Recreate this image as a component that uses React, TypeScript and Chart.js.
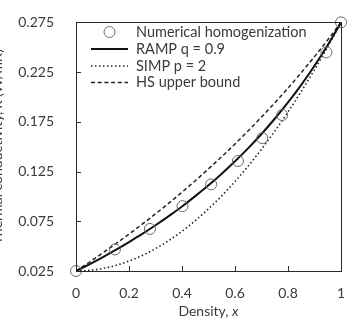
import React, { useEffect, useRef } from 'react';
import { Chart, registerables } from 'chart.js';

Chart.register(...registerables);

// ---- data ----
const densityGrid = [0, 0.05, 0.1, 0.15, 0.2, 0.25, 0.3, 0.35, 0.4, 0.45, 0.5, 0.55, 0.6, 0.65, 0.7, 0.75, 0.8, 0.85, 0.9, 0.95, 1];
const rampValues = [0.025, 0.0317, 0.0388, 0.0462, 0.0541, 0.0623, 0.071, 0.0802, 0.0899, 0.1003, 0.1112, 0.1229, 0.1353, 0.1486, 0.1628, 0.1781, 0.1945, 0.2122, 0.2314, 0.2523, 0.275];
const simpValues = [0.025, 0.0256, 0.0275, 0.0306, 0.035, 0.0406, 0.0475, 0.0556, 0.065, 0.0756, 0.0875, 0.1006, 0.115, 0.1306, 0.1475, 0.1656, 0.185, 0.2056, 0.2275, 0.2506, 0.275];
const hsValues = [0.025, 0.0338, 0.043, 0.0524, 0.0621, 0.0721, 0.0825, 0.0932, 0.1043, 0.1158, 0.1277, 0.14, 0.1528, 0.166, 0.1798, 0.1941, 0.209, 0.2245, 0.2406, 0.2574, 0.275];
const numericalX = [0, 0.147, 0.279, 0.402, 0.51, 0.611, 0.703, 0.778, 0.945, 1];
const numericalY = [0.025, 0.0467, 0.0673, 0.0902, 0.1121, 0.1356, 0.1586, 0.1819, 0.2449, 0.275];
const xTicks = [0, 0.2, 0.4, 0.6, 0.8, 1];
const yTicks = [0.025, 0.075, 0.125, 0.175, 0.225, 0.275];
const seriesLabels = ['Numerical homogenization', 'RAMP q = 0.9', 'SIMP p = 2', 'HS upper bound'];
const xTitleMain = 'Density, ';
const xTitleItalic = 'x';
const yTitle = 'Thermal conductivity, λ (W/mK)';

const FONT_FAMILY = 'Lato, "Open Sans", sans-serif';
const TEXT_COLOR = '#3a3a3a';
const AXIS_COLOR = '#2a2a2a';
const SHIFT = 11;

const toPoints = (xs: number[], ys: number[]) => xs.map((x, i) => ({ x, y: ys[i] }));

const framePlugin = {
  id: 'frameAndLegend',
  afterDraw(chart: any) {
    const { ctx, chartArea, scales } = chart;
    const { left, right, top, bottom } = chartArea;
    ctx.save();
    // box
    ctx.strokeStyle = AXIS_COLOR;
    ctx.lineWidth = 1;
    ctx.strokeRect(Math.round(left) + 0.5, Math.round(top) + 0.5, Math.round(right - left), Math.round(bottom - top));
    // inside tick marks
    ctx.beginPath();
    scales.x.ticks.forEach((t: any) => {
      const px = Math.round(scales.x.getPixelForValue(t.value)) + 0.5;
      ctx.moveTo(px, bottom);
      ctx.lineTo(px, bottom - 5);
    });
    scales.y.ticks.forEach((t: any) => {
      const py = Math.round(scales.y.getPixelForValue(t.value)) + 0.5;
      ctx.moveTo(left, py);
      ctx.lineTo(left + 5, py);
    });
    ctx.stroke();

    // x title with italic variable
    ctx.fillStyle = TEXT_COLOR;
    ctx.textBaseline = 'middle';
    ctx.textAlign = 'left';
    const fMain = `14px ${FONT_FAMILY}`;
    const fIt = `italic 14px ${FONT_FAMILY}`;
    ctx.font = fMain;
    const w1 = ctx.measureText(xTitleMain).width;
    ctx.font = fIt;
    const w2 = ctx.measureText(xTitleItalic).width;
    const cx = (left + right) / 2;
    const ty = 311.5;
    ctx.font = fMain;
    ctx.fillText(xTitleMain, cx - (w1 + w2) / 2, ty);
    ctx.font = fIt;
    ctx.fillText(xTitleItalic, cx - (w1 + w2) / 2 + w1, ty);

    // legend inside plot
    const ds = chart.data.datasets;
    const rowY = [32, 49, 66, 82.5];
    const sx0 = 91 + SHIFT;
    const sx1 = 128 + SHIFT;
    const textX = 136 + SHIFT;
    ctx.font = `14.5px ${FONT_FAMILY}`;
    ds.forEach((d: any, i: number) => {
      const y = rowY[i];
      if (d.showLine === false) {
        ctx.beginPath();
        ctx.strokeStyle = d.borderColor;
        ctx.lineWidth = d.borderWidth;
        ctx.arc((sx0 + sx1) / 2, y, d.pointRadius, 0, Math.PI * 2);
        ctx.stroke();
      } else {
        ctx.beginPath();
        ctx.strokeStyle = d.borderColor;
        ctx.lineWidth = d.borderWidth;
        ctx.setLineDash(d.borderDash || []);
        ctx.moveTo(sx0, y);
        ctx.lineTo(sx1, y);
        ctx.stroke();
        ctx.setLineDash([]);
      }
      ctx.fillStyle = TEXT_COLOR;
      ctx.fillText(d.label, textX, y);
    });
    ctx.restore();
  },
};

export default function App() {
  const canvasRef = useRef<HTMLCanvasElement | null>(null);

  useEffect(() => {
    const canvas = canvasRef.current;
    if (!canvas) return;
    const chart = new Chart(canvas, {
      type: 'line',
      data: {
        datasets: [
          {
            type: 'scatter',
            label: seriesLabels[0],
            data: toPoints(numericalX, numericalY),
            showLine: false,
            pointStyle: 'circle',
            pointRadius: 5.5,
            borderColor: '#6a6a6a',
            backgroundColor: 'rgba(0,0,0,0)',
            borderWidth: 1,
            clip: false,
            order: 0,
          } as any,
          {
            label: seriesLabels[1],
            data: toPoints(densityGrid, rampValues),
            borderColor: '#111111',
            borderWidth: 2,
            pointRadius: 0,
            cubicInterpolationMode: 'monotone',
            fill: false,
          },
          {
            label: seriesLabels[2],
            data: toPoints(densityGrid, simpValues),
            borderColor: '#222222',
            borderWidth: 1.6,
            borderDash: [1.5, 2.5],
            pointRadius: 0,
            cubicInterpolationMode: 'monotone',
            fill: false,
          },
          {
            label: seriesLabels[3],
            data: toPoints(densityGrid, hsValues),
            borderColor: '#222222',
            borderWidth: 1.5,
            borderDash: [4, 2.7],
            pointRadius: 0,
            cubicInterpolationMode: 'monotone',
            fill: false,
          },
        ],
      },
      options: {
        animation: false,
        responsive: false,
        maintainAspectRatio: false,
        events: [],
        layout: { padding: { left: 0, right: 20, top: 14, bottom: 0 } },
        plugins: { legend: { display: false }, tooltip: { enabled: false } },
        scales: {
          x: {
            type: 'linear',
            min: 0,
            max: 1,
            afterBuildTicks: (s: any) => {
              s.ticks = xTicks.map((v) => ({ value: v }));
            },
            afterFit: (s: any) => {
              s.height = 51;
            },
            grid: { display: false },
            border: { display: false },
            ticks: {
              padding: 6,
              color: TEXT_COLOR,
              font: { family: FONT_FAMILY, size: 14 },
              maxRotation: 0,
              callback: (v: any) => String(Number(v)),
            },
          },
          y: {
            type: 'linear',
            min: 0.025,
            max: 0.275,
            afterBuildTicks: (s: any) => {
              s.ticks = yTicks.map((v) => ({ value: v }));
            },
            afterFit: (s: any) => {
              s.width = 76 + SHIFT;
            },
            grid: { display: false },
            border: { display: false },
            title: {
              display: true,
              text: yTitle,
              color: TEXT_COLOR,
              font: { family: FONT_FAMILY, size: 14 },
              padding: 0,
            },
            ticks: {
              padding: 14,
              color: TEXT_COLOR,
              font: { family: FONT_FAMILY, size: 14 },
              callback: (v: any) => Number(v).toFixed(3),
            },
          },
        },
      },
      plugins: [framePlugin],
    } as any);
    return () => chart.destroy();
  }, []);

  return (
    <div style={{ position: 'fixed', left: -SHIFT, top: 0, width: 361 + SHIFT, height: 322, background: '#fff' }}>
      <canvas ref={canvasRef} width={361 + SHIFT} height={322} style={{ display: 'block', width: 361 + SHIFT, height: 322 }} />
    </div>
  );
}
